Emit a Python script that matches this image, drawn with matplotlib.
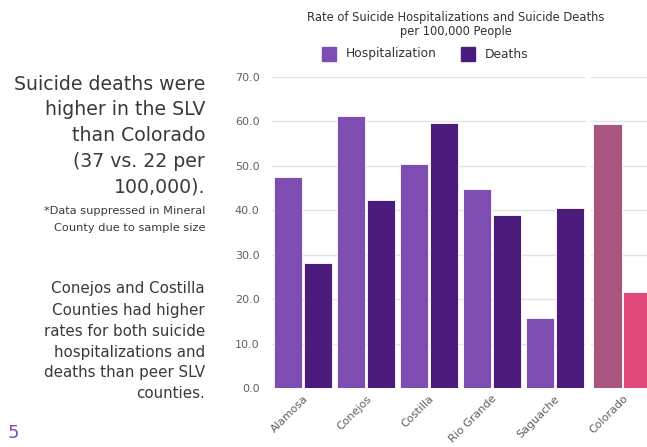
import numpy as np
import matplotlib.pyplot as plt
from matplotlib.patches import Rectangle

# Data ------------------------------------------------------------------

counties = ["Alamosa", "Conejos", "Costilla", "Rio Grande", "Saguache"]
hosp_county = [47.5, 61.3, 50.4, 44.8, 15.8]
deaths_county = [28.1, 42.3, 59.7, 39.0, 40.5]

state = ["Colorado"]
hosp_state = [59.5]
deaths_state = [21.6]

yticks = [0, 10, 20, 30, 40, 50, 60, 70]

# Styles ----------------------------------------------------------------

FONT = "DejaVu Sans"
c_hosp = "#7e4db1"
c_death = "#4b1c7b"
c_hosp_co = "#a8567f"
c_death_co = "#e0497a"
grey = "#606060"
grid = "#e3e3e3"
txt = "#3a3a3a"

W, H = 647, 447
fig = plt.figure(figsize=(W / 100, H / 100), dpi=100)
plt.rcParams["font.family"] = [FONT]


def box(x0, x1, y_top, y_bot):
    # pixel box -> figure fraction
    return [x0 / W, 1 - y_bot / H, (x1 - x0) / W, (y_bot - y_top) / H]


def bar_panel(ax, labels, hosp, deaths, c1, c2, show_y):
    x = np.arange(len(labels))
    off, wid = 0.238, 0.445
    ax.bar(x - off, hosp, wid, color=c1, edgecolor="white", linewidth=0.6, zorder=3)
    ax.bar(x + off, deaths, wid, color=c2, edgecolor="white", linewidth=0.6, zorder=3)
    ax.set_ylim(0, 70)
    ax.set_yticks(yticks)
    ax.yaxis.grid(True, color=grid, linewidth=1.0, zorder=0)
    for s in ax.spines.values():
        s.set_visible(False)
    ax.tick_params(length=0, colors=grey, labelsize=8)
    if show_y:
        ax.set_yticklabels([f"{v:.1f}" for v in yticks])
        ax.tick_params(axis="y", pad=9)
    else:
        ax.set_yticklabels([])
    ax.set_xticks(x)
    ax.set_xticklabels(labels, rotation=45, ha="right", rotation_mode="anchor",
                       fontsize=8, color=grey)
    ax.tick_params(axis="x", pad=4)


# Main county panel
ax1 = fig.add_axes(box(272, 586, 77, 388))
ax1.set_xlim(-0.5, len(counties) - 0.5)
bar_panel(ax1, counties, hosp_county, deaths_county, c_hosp, c_death, True)

# State panel (runs off the right edge)
ax2 = fig.add_axes(box(591, 654, 77, 388))
ax2.set_xlim(-0.5, 0.5)
bar_panel(ax2, state, hosp_state, deaths_state, c_hosp_co, c_death_co, False)

# Title and legend
fig.text(456 / W, 1 - 17 / H, "Rate of Suicide Hospitalizations and Suicide Deaths",
         ha="center", va="center", fontsize=8.3, color="#333333")
fig.text(456 / W, 1 - 31 / H, "per 100,000 People",
         ha="center", va="center", fontsize=8.3, color="#333333")

for x0, c, lab in [(322, c_hosp, "Hospitalization"), (461, c_death, "Deaths")]:
    fig.patches.append(Rectangle((x0 / W, 1 - 61 / H), 14 / W, 14 / H,
                                 transform=fig.transFigure, color=c))
    fig.text((x0 + 24) / W, 1 - 54 / H, lab, ha="left", va="center",
             fontsize=8.8, color="#333333")

# Side notes
right = 205 / W
lines1 = ["Suicide deaths were", "higher in the SLV", "than Colorado",
          "(37 vs. 22 per", "100,000)."]
for i, t in enumerate(lines1):
    fig.text(right, 1 - (84 + 25.8 * i) / H, t, ha="right", va="center",
             fontsize=13.6, color=txt)

for i, t in enumerate(["*Data suppressed in Mineral", "County due to sample size"]):
    fig.text(right, 1 - (211 + 17 * i) / H, t, ha="right", va="center",
             fontsize=8.2, color=txt)

lines2 = ["Conejos and Costilla", "Counties had higher", "rates for both suicide",
          "hospitalizations and", "deaths than peer SLV", "counties."]
for i, t in enumerate(lines2):
    fig.text(right, 1 - (289 + 21 * i) / H, t, ha="right", va="center",
             fontsize=10.9, color=txt)

fig.text(8 / W, 1 - 433 / H, "5", ha="left", va="center", fontsize=13, color=c_hosp)

fig.savefig("out.png", dpi=100)
